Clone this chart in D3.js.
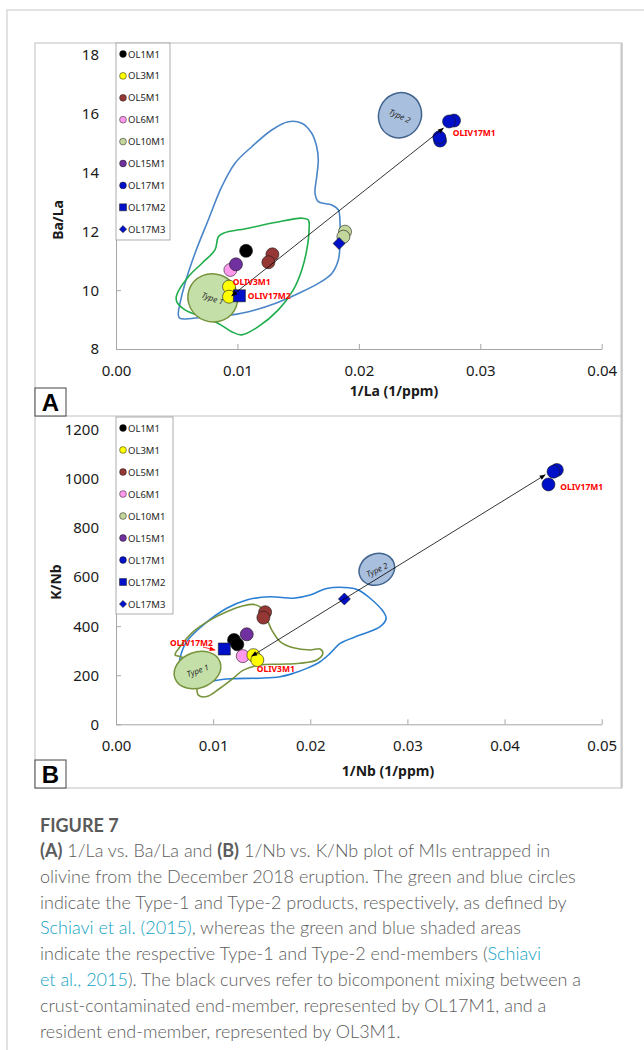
<!DOCTYPE html>
<html>
<head>
<meta charset="utf-8">
<script src="https://cdn.jsdelivr.net/npm/d3@7"></script>
<style>
  body { margin: 0; background: #fff; }
  svg { font-family: "Noto Sans", sans-serif; }
</style>
</head>
<body>
<svg id="chart" width="644" height="1050"></svg>
<script>
// Legend (same for both panels)
const legendNames = ["OL1M1", "OL3M1", "OL5M1", "OL6M1", "OL10M1", "OL15M1", "OL17M1", "OL17M2", "OL17M3"];
const legendColors = ["#000000", "#ffff00", "#953735", "#ff99ee", "#c3d69b", "#7030a0", "#0010c8", "#0010c8", "#0010c8"];
const legendShapes = ["circle", "circle", "circle", "circle", "circle", "circle", "circle", "square", "diamond"];

// Panel A : 1/La vs Ba/La
const aTicksX = [0, 0.01, 0.02, 0.03, 0.04];
const aTicksY = [8, 10, 12, 14, 16, 18];
const aSample = ["OL5M1", "OL5M1", "OL1M1", "OL6M1", "OL15M1", "OL3M1", "OL3M1", "OL17M2", "OL10M1", "OL10M1", "OL17M3", "OL17M1", "OL17M1", "OL17M1", "OL17M1"];
const aInvLa = [0.01288, 0.01255, 0.01071, 0.00942, 0.00988, 0.00931, 0.00931, 0.01016, 0.01886, 0.01873, 0.01837, 0.02784, 0.02743, 0.02669, 0.02663];
const aBaLa = [11.22, 10.95, 11.34, 10.69, 10.88, 10.12, 9.78, 9.81, 11.99, 11.82, 11.59, 15.77, 15.74, 15.09, 15.20];
// outlines of the Type-2 (blue) and Type-1 (green) products
const aBlueX = [0.00513, 0.00527, 0.00568, 0.00651, 0.00760, 0.00871, 0.00980, 0.01118, 0.01283, 0.01419, 0.01530, 0.01612, 0.01653, 0.01666, 0.01653, 0.01639, 0.01666, 0.01777, 0.01831, 0.01845, 0.01845, 0.01831, 0.01777, 0.01666, 0.01502, 0.01310, 0.01145, 0.00953, 0.00760, 0.00624, 0.00527];
const aBlueY = [9.16, 9.55, 10.23, 11.26, 12.39, 13.52, 14.32, 14.88, 15.45, 15.73, 15.68, 15.34, 14.88, 14.43, 13.86, 13.30, 13.01, 12.90, 12.73, 12.28, 11.60, 11.03, 10.57, 10.23, 9.89, 9.55, 9.33, 9.16, 9.10, 9.04, 9.04];
const aGreenX = [0.00500, 0.00596, 0.00706, 0.00815, 0.00843, 0.00884, 0.01090, 0.01310, 0.01530, 0.01584, 0.01590, 0.01571, 0.01530, 0.01460, 0.01337, 0.01172, 0.01035, 0.00953, 0.00843, 0.00706, 0.00568, 0.00500];
const aGreenY = [9.84, 10.46, 10.91, 11.37, 11.82, 11.94, 12.11, 12.30, 12.45, 12.39, 12.05, 11.37, 10.69, 10.01, 9.33, 8.76, 8.48, 8.59, 8.87, 9.10, 9.33, 9.61];
// end-member ellipses: centre, half-width, half-height, tilt
const aTypeName = ["Type 1", "Type 2"];
const aTypeCx = [0.00797, 0.02339];
const aTypeCy = [9.74, 15.95];
const aTypeRx = [0.00206, 0.00175];
const aTypeRy = [0.816, 0.78];
const aTypeTilt = [20, 25];
// mixing line (OL3M1 -> OL17M1)
const aMixX = [0.00953, 0.02696];
const aMixY = [9.81, 15.51];
// red sample labels
const aLabelText = ["OLIV3M1", "OLIV17M2", "OLIV17M1"];
const aLabelX = [0.00961, 0.01085, 0.02774];
const aLabelY = [10.17, 9.70, 15.26];

// Panel B : 1/Nb vs K/Nb
const bTicksX = [0, 0.01, 0.02, 0.03, 0.04, 0.05];
const bTicksY = [0, 200, 400, 600, 800, 1000, 1200];
const bSample = ["OL5M1", "OL5M1", "OL1M1", "OL1M1", "OL15M1", "OL6M1", "OL3M1", "OL3M1", "OL17M2", "OL17M3", "OL17M1", "OL17M1", "OL17M1"];
const bInvNb = [0.01535, 0.01517, 0.01215, 0.01249, 0.01346, 0.01305, 0.01414, 0.01455, 0.01115, 0.02351, 0.04538, 0.04504, 0.04452];
const bKNb = [457, 435, 344, 326, 367, 278, 282, 262, 307, 511, 1037, 1030, 978];
const bBlueX = [0.00659, 0.00728, 0.00899, 0.01140, 0.01346, 0.01586, 0.01826, 0.01998, 0.02170, 0.02392, 0.02495, 0.02616, 0.02753, 0.02781, 0.02719, 0.02513, 0.02307, 0.02204, 0.02101, 0.01964, 0.01826, 0.01689, 0.01483, 0.01140, 0.00796, 0.00677, 0.00652];
const bBlueY = [269, 337, 405, 473, 507, 520, 514, 527, 554, 557, 548, 514, 459, 432, 398, 364, 330, 289, 255, 228, 208, 194, 188, 185, 167, 174, 214];
const bGreenX = [0.00608, 0.00659, 0.00796, 0.00968, 0.01140, 0.01311, 0.01414, 0.01483, 0.01535, 0.01604, 0.01689, 0.01826, 0.01998, 0.02101, 0.02129, 0.02067, 0.01895, 0.01689, 0.01483, 0.01311, 0.01208, 0.01071, 0.00934, 0.00848, 0.00831, 0.00831, 0.00780, 0.00659];
const bGreenY = [283, 316, 378, 425, 459, 483, 489, 479, 446, 384, 337, 312, 303, 307, 289, 262, 249, 245, 242, 221, 188, 147, 113, 119, 160, 214, 255, 276];
const bTypeName = ["Type 1", "Type 2"];
const bTypeCx = [0.00839, 0.02685];
const bTypeCy = [221, 632];
const bTypeRx = [0.00247, 0.00188];
const bTypeRy = [73, 63];
const bTypeTilt = [-20, -25];
const bMixX = [0.01397, 0.04418];
const bMixY = [278, 1017];
const bLabelText = ["OLIV17M2", "OLIV3M1", "OLIV17M1"];
const bLabelX = [0.00556, 0.01449, 0.04573];
const bLabelY = [321, 215, 955];
// little red pointer from the OLIV17M2 label to its square
const bPointerX = [0.00896, 0.01020];
const bPointerY = [315, 303];

const captionTitle = "FIGURE 7";
const captionLines = [
    [["(A)", "b"], [" 1/La vs. Ba/La and ", ""], ["(B)", "b"], [" 1/Nb vs. K/Nb plot of MIs entrapped in", ""]],
    [["olivine from the December 2018 eruption. The green and blue circles", ""]],
    [["indicate the Type-1 and Type-2 products, respectively, as defined by", ""]],
    [["Schiavi et al. (2015)", "l"], [", whereas the green and blue shaded areas", ""]],
    [["indicate the respective Type-1 and Type-2 end-members (", ""], ["Schiavi", "l"]],
    [["et al., 2015", "l"], ["). The black curves refer to bicomponent mixing between a", ""]],
    [["crust-contaminated end-member, represented by OL17M1, and a", ""]],
    [["resident end-member, represented by OL3M1.", ""]]
];

const svg = d3.select("#chart");
const axisGrey = "#a6a6a6";

// arrow heads
let defs = svg.append("defs");
function addMarker(id, color) {
    defs.append("marker")
        .attr("id", id)
        .attr("viewBox", "0 0 10 10")
        .attr("refX", 9).attr("refY", 5)
        .attr("markerUnits", "userSpaceOnUse")
        .attr("markerWidth", 7).attr("markerHeight", 6)
        .attr("orient", "auto-start-reverse")
        .append("path")
        .attr("d", "M0,1 L10,5 L0,9 z")
        .attr("fill", color);
}
addMarker("arrowK", "#000");
addMarker("arrowR", "#ff0000");

// page card and figure frame
svg.append("path")
    .attr("d", "M7,1050 V10 H644")
    .attr("fill", "none").attr("stroke", "#d9d9d9").attr("stroke-width", 1.5);
svg.append("rect")
    .attr("x", 35).attr("y", 43).attr("width", 587).attr("height", 745)
    .attr("fill", "none").attr("stroke", "#c0c0c0");
svg.append("line")
    .attr("x1", 621.5).attr("x2", 621.5).attr("y1", 43).attr("y2", 788)
    .attr("stroke", "#c8c8c8").attr("stroke-width", 2);
svg.append("line")
    .attr("x1", 35).attr("x2", 622).attr("y1", 416).attr("y2", 416)
    .attr("stroke", "#c0c0c0");

function symbolPath(shape, big) {
    if (shape === "square") return d3.symbol(d3.symbolSquare, big ? 144 : 49)();
    if (shape === "diamond") return d3.symbol(d3.symbolSquare, big ? 72 : 26)();
    return d3.symbol(d3.symbolCircle, big ? 133 : 36)();
}

function drawPanel(p) {
    let x = d3.scaleLinear().domain(p.xDomain).range([116, 601.7]);
    let y = d3.scaleLinear().domain(p.yDomain).range(p.yRange);
    let g = svg.append("g");

    // axes, ticks point inwards like the spreadsheet original
    let xAxis = g.append("g")
        .attr("transform", "translate(0," + p.yRange[0] + ")")
        .call(d3.axisBottom(x).tickValues(p.ticksX).tickFormat(d3.format(".2f"))
            .tickSizeInner(-5).tickSizeOuter(0).tickPadding(16));
    let yAxis = g.append("g")
        .attr("transform", "translate(116,0)")
        .call(d3.axisLeft(y).tickValues(p.ticksY).tickFormat(d3.format("d"))
            .tickSizeInner(-5).tickSizeOuter(0).tickPadding(17));
    [xAxis, yAxis].forEach(a => {
        a.selectAll("path, line").attr("stroke", axisGrey);
        a.selectAll("text").attr("font-size", "15px").attr("fill", "#1a1a1a")
            .attr("font-family", "Noto Sans, sans-serif");
    });

    // axis titles
    g.append("text")
        .attr("x", p.xTitlePos[0]).attr("y", p.xTitlePos[1])
        .attr("text-anchor", "middle").attr("dominant-baseline", "central")
        .attr("font-size", "14px").attr("font-weight", "bold").attr("fill", "#1a1a1a")
        .text(p.xTitle);
    g.append("text")
        .attr("transform", "translate(" + p.yTitlePos[0] + "," + p.yTitlePos[1] + ") rotate(-90)")
        .attr("text-anchor", "middle").attr("dominant-baseline", "central")
        .attr("font-size", "14px").attr("font-weight", "bold").attr("fill", "#1a1a1a")
        .text(p.yTitle);

    // product outlines
    let line = d3.line()
        .x(d => x(d[0])).y(d => y(d[1]))
        .curve(d3.curveCatmullRomClosed.alpha(0.5));
    g.append("path")
        .attr("d", line(d3.zip(p.blueX, p.blueY)))
        .attr("fill", "none").attr("stroke", p.blueColor).attr("stroke-width", 1.6);
    g.append("path")
        .attr("d", line(d3.zip(p.greenX, p.greenY)))
        .attr("fill", "none").attr("stroke", p.greenColor).attr("stroke-width", 1.6);

    // end-member ellipses
    let fills = ["#c4dfa8", "#a9bfde"], strokes = ["#77933c", "#41648f"];
    p.typeName.forEach((name, i) => {
        let cx = x(p.typeCx[i]), cy = y(p.typeCy[i]);
        let eg = g.append("g")
            .attr("transform", "translate(" + cx + "," + cy + ") rotate(" + p.typeTilt[i] + ")");
        eg.append("ellipse")
            .attr("rx", x(p.typeCx[i] + p.typeRx[i]) - cx)
            .attr("ry", cy - y(p.typeCy[i] + p.typeRy[i]))
            .attr("fill", fills[i]).attr("stroke", strokes[i]).attr("stroke-width", 1.5);
        eg.append("text")
            .attr("text-anchor", "middle").attr("dominant-baseline", "central")
            .attr("font-size", "8px").attr("font-style", "italic").attr("fill", "#2a2a2a")
            .text(name);
    });

    // sample points
    g.selectAll(".pt")
        .data(p.sample)
        .enter().append("path")
        .attr("class", "pt")
        .attr("transform", (d, i) => "translate(" + x(p.xs[i]) + "," + y(p.ys[i]) + ")" +
            (legendShapes[legendNames.indexOf(d)] === "diamond" ? " rotate(45)" : ""))
        .attr("d", d => symbolPath(legendShapes[legendNames.indexOf(d)], true))
        .attr("fill", d => legendColors[legendNames.indexOf(d)])
        .attr("stroke", "#1a1a1a").attr("stroke-width", 0.6);

    // mixing line with arrow heads on both ends
    g.append("line")
        .attr("x1", x(p.mixX[0])).attr("y1", y(p.mixY[0]))
        .attr("x2", x(p.mixX[1])).attr("y2", y(p.mixY[1]))
        .attr("stroke", "#000").attr("stroke-width", 0.8)
        .attr("marker-start", "url(#arrowK)").attr("marker-end", "url(#arrowK)");

    if (p.pointerX) {
        g.append("line")
            .attr("x1", x(p.pointerX[0])).attr("y1", y(p.pointerY[0]))
            .attr("x2", x(p.pointerX[1])).attr("y2", y(p.pointerY[1]))
            .attr("stroke", "#ff0000").attr("stroke-width", 0.8)
            .attr("marker-end", "url(#arrowR)");
    }

    // red labels
    g.selectAll(".lab")
        .data(p.labelText)
        .enter().append("text")
        .attr("class", "lab")
        .attr("x", (d, i) => x(p.labelX[i]))
        .attr("y", (d, i) => y(p.labelY[i]))
        .attr("font-size", "8.5px").attr("font-weight", "bold").attr("fill", "#ff0000")
        .text(d => d);

    // legend box
    let lg = g.append("g");
    lg.append("rect")
        .attr("x", 116).attr("y", p.legend[0]).attr("width", p.legend[1]).attr("height", 197)
        .attr("fill", "#fff").attr("stroke", "#9a9a9a").attr("stroke-width", 0.8);
    legendNames.forEach((name, i) => {
        let ly = p.legend[0] + 11 + i * p.legend[2];
        lg.append("path")
            .attr("transform", "translate(123," + ly + ")" + (legendShapes[i] === "diamond" ? " rotate(45)" : ""))
            .attr("d", symbolPath(legendShapes[i], false))
            .attr("fill", legendColors[i]).attr("stroke", "#1a1a1a").attr("stroke-width", 0.5);
        lg.append("text")
            .attr("x", 128).attr("y", ly)
            .attr("dominant-baseline", "central")
            .attr("font-size", "9.5px").attr("fill", "#262626")
            .text(name);
    });

    // panel letter
    g.append("rect")
        .attr("x", 35).attr("y", p.letterY).attr("width", 31).attr("height", 28)
        .attr("fill", "#fff").attr("stroke", "#444");
    g.append("text")
        .attr("x", 50.5).attr("y", p.letterY + 14.5)
        .attr("text-anchor", "middle").attr("dominant-baseline", "central")
        .attr("font-size", "24px").attr("font-weight", "bold")
        .attr("font-family", "Liberation Sans, Arial, sans-serif")
        .text(p.letter);
}

drawPanel({
    xDomain: [0, 0.04], yDomain: [8, 18], yRange: [349, 55],
    ticksX: aTicksX, ticksY: aTicksY,
    xTitle: "1/La (1/ppm)", xTitlePos: [394, 390],
    yTitle: "Ba/La", yTitlePos: [57, 220],
    sample: aSample, xs: aInvLa, ys: aBaLa,
    blueX: aBlueX, blueY: aBlueY, blueColor: "#4a86c8",
    greenX: aGreenX, greenY: aGreenY, greenColor: "#1fae4b",
    typeName: aTypeName, typeCx: aTypeCx, typeCy: aTypeCy, typeRx: aTypeRx, typeRy: aTypeRy, typeTilt: aTypeTilt,
    mixX: aMixX, mixY: aMixY,
    labelText: aLabelText, labelX: aLabelX, labelY: aLabelY,
    legend: [43, 54, 21.9],
    letter: "A", letterY: 388
});

drawPanel({
    xDomain: [0, 0.05], yDomain: [0, 1200], yRange: [724.3, 430],
    ticksX: bTicksX, ticksY: bTicksY,
    xTitle: "1/Nb (1/ppm)", xTitlePos: [388, 770],
    yTitle: "K/Nb", yTitlePos: [55, 582],
    sample: bSample, xs: bInvNb, ys: bKNb,
    blueX: bBlueX, blueY: bBlueY, blueColor: "#2a7fd2",
    greenX: bGreenX, greenY: bGreenY, greenColor: "#77933c",
    typeName: bTypeName, typeCx: bTypeCx, typeCy: bTypeCy, typeRx: bTypeRx, typeRy: bTypeRy, typeTilt: bTypeTilt,
    mixX: bMixX, mixY: bMixY,
    labelText: bLabelText, labelX: bLabelX, labelY: bLabelY,
    pointerX: bPointerX, pointerY: bPointerY,
    legend: [417, 57, 22],
    letter: "B", letterY: 760
});

// caption
svg.append("text")
    .attr("x", 40).attr("y", 832)
    .attr("font-family", "Lato, sans-serif").attr("font-size", "18px").attr("font-weight", "bold")
    .attr("fill", "#5a5a5a")
    .text(captionTitle);
captionLines.forEach((parts, i) => {
    let t = svg.append("text")
        .attr("x", 40).attr("y", 857 + i * 25.8)
        .attr("font-family", "Lato, sans-serif").attr("font-size", "18px").attr("font-weight", 300)
        .attr("fill", "#5c5c5c");
    parts.forEach(pt => {
        t.append("tspan")
            .attr("font-weight", pt[1] === "b" ? "bold" : null)
            .attr("fill", pt[1] === "l" ? "#12a3c4" : null)
            .text(pt[0]);
    });
});
</script>
</body>
</html>
